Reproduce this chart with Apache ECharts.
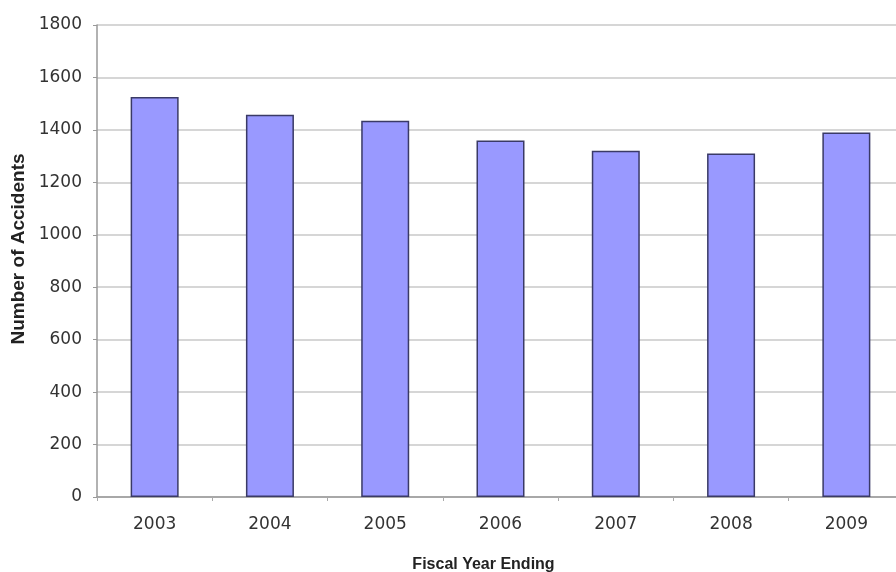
<!DOCTYPE html>
<html>
<head>
<meta charset="utf-8">
<script src="https://cdn.jsdelivr.net/npm/echarts@6/dist/echarts.min.js"></script>
<style>
  html, body { margin: 0; padding: 0; background: #fff; }
  #chart { width: 896px; height: 572px; }
</style>
</head>
<body>
<div id="chart"></div>
<script>
// Accidents per fiscal year
const years = ['2003', '2004', '2005', '2006', '2007', '2008', '2009'];
const accidents = [1525, 1458, 1435, 1360, 1320, 1310, 1390];
const yTicks = { min: 0, max: 1800, step: 200 };

const chart = echarts.init(document.getElementById('chart'), null, { renderer: 'canvas' });
const tickFont = 'DejaVu Sans, Liberation Sans, Arial, sans-serif';
const titleFont = 'Liberation Sans, Arial, sans-serif';

chart.setOption({
  animation: false,
  backgroundColor: '#ffffff',
  grid: { left: 97, right: -8, top: 25, bottom: 75, containLabel: false, outerBoundsMode: 'none' },
  xAxis: {
    type: 'category',
    data: years,
    name: 'Fiscal Year Ending',
    nameLocation: 'middle',
    nameGap: 60,
    nameTextStyle: { fontFamily: titleFont, fontSize: 16, fontWeight: 'bold', color: '#222', padding: [0, 34, 0, 0] },
    axisLine: { show: true, lineStyle: { color: '#999', width: 1.5 } },
    axisTick: { show: true, length: 4, inside: false, lineStyle: { color: '#aaa' } },
    axisLabel: { fontFamily: tickFont, fontSize: 17, color: '#333', margin: 19 }
  },
  yAxis: {
    type: 'value',
    min: yTicks.min,
    max: yTicks.max,
    interval: yTicks.step,
    name: 'Number of Accidents',
    nameLocation: 'middle',
    nameGap: 68,
    nameRotate: 90,
    nameTextStyle: { fontFamily: titleFont, fontSize: 19, fontWeight: 'bold', color: '#222', padding: [0, 0, 0, 24] },
    axisLine: { show: true, lineStyle: { color: '#999', width: 1.5 } },
    axisTick: { show: true, length: 4, lineStyle: { color: '#999' } },
    axisLabel: { fontFamily: tickFont, fontSize: 17, color: '#333', margin: 15, formatter: v => String(v) },
    splitLine: { show: true, lineStyle: { color: '#c8c8c8', width: 1.5 } }
  },
  series: [{
    type: 'bar',
    data: accidents,
    barWidth: 48,
    itemStyle: { color: '#9999ff', borderColor: '#3a3a66', borderWidth: 1.5 }
  }]
});
</script>
</body>
</html>
